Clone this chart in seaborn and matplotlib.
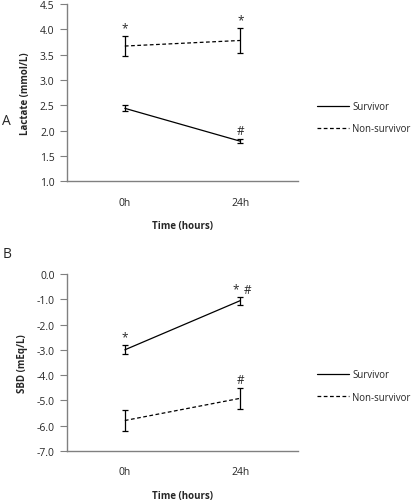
import numpy as np
import pandas as pd
import seaborn as sns
import matplotlib
matplotlib.use("Agg")
import matplotlib.pyplot as plt

times = ["0h", "24h"]
groups = ["Survivor", "Non-survivor"]

# panel A - lactate (mmol/L)
lac_surv = [2.44, 1.79]
lac_surv_err = [0.06, 0.035]
lac_non = [3.67, 3.78]
lac_non_err = [0.20, 0.24]

# panel B - SBD (mEq/L)
sbd_surv = [-3.0, -1.05]
sbd_surv_err = [0.18, 0.16]
sbd_non = [-5.8, -4.92]
sbd_non_err = [0.42, 0.42]

sns.set_style("white")
plt.rcParams['font.family'] = ['Open Sans', 'DejaVu Sans']

fig = plt.figure(figsize=(4.14, 5.02), dpi=100)
axA = fig.add_axes([0.162, 0.637, 0.558, 0.353])
axB = fig.add_axes([0.162, 0.1, 0.558, 0.352])

def panel(ax, surv, surv_err, non, non_err, ylim, yticks, ylabel, marks, leg_y):
    df = pd.DataFrame({
        "time": [0, 1, 0, 1],
        "value": surv + non,
        "group": [groups[0]] * 2 + [groups[1]] * 2,
    })
    sns.lineplot(data=df, x="time", y="value", style="group", ax=ax,
                 color="black", linewidth=0.9,
                 dashes={"Survivor": "", "Non-survivor": (3, 2)})
    for vals, errs in [(surv, surv_err), (non, non_err)]:
        ax.errorbar([0, 1], vals, yerr=errs, fmt="none", ecolor="black",
                    elinewidth=0.9, capsize=2.5, capthick=0.9)
    for x, y, s in marks:
        ax.text(x, y, s, ha="center", va="bottom", fontsize=8.5)
    ax.set_xlim(-0.5, 1.5)
    ax.set_ylim(*ylim)
    ax.set_yticks(yticks)
    ax.set_yticklabels(["%.1f" % t for t in yticks], fontsize=7.5)
    ax.set_xticks([0, 1])
    ax.set_xticklabels(times, fontsize=7.5)
    ax.tick_params(axis="x", length=0, pad=11)
    ax.tick_params(axis="y", length=5, width=0.8, color="#808080", pad=4, left=True)
    ax.set_xlabel("Time (hours)", fontsize=7, fontweight="bold", labelpad=9)
    ax.set_ylabel(ylabel, fontsize=7, fontweight="bold", labelpad=6)
    sns.despine(ax=ax)
    for side in ["left", "bottom"]:
        ax.spines[side].set_color("#808080")
        ax.spines[side].set_linewidth(1.0)
    ax.legend(loc="center left", bbox_to_anchor=(317 / 414, leg_y),
              bbox_transform=fig.transFigure, frameon=False, borderpad=0,
              borderaxespad=0, fontsize=6.9, handlelength=3.3,
              handletextpad=0.35, labelspacing=1.15, title=None)

panel(axA, lac_surv, lac_surv_err, lac_non, lac_non_err, (1.0, 4.5),
      np.arange(1.0, 4.51, 0.5), "Lactate (mmol/L)",
      [(0, 3.9, "*"), (1, 4.06, "*"), (1, 1.88, "#")], 1 - 118.5 / 502)
panel(axB, sbd_surv, sbd_surv_err, sbd_non, sbd_non_err, (-7.0, 0.0),
      np.arange(-7.0, 0.01, 1.0), "SBD (mEq/L)",
      [(0, -2.75, "*"), (0.96, -0.85, "*"), (1.06, -0.85, "#"), (1, -4.45, "#")],
      1 - 387 / 502)

fig.text(0.006, 0.751, "A", fontsize=10)
fig.text(0.006, 0.487, "B", fontsize=10)

fig.savefig("out.png", dpi=100)
